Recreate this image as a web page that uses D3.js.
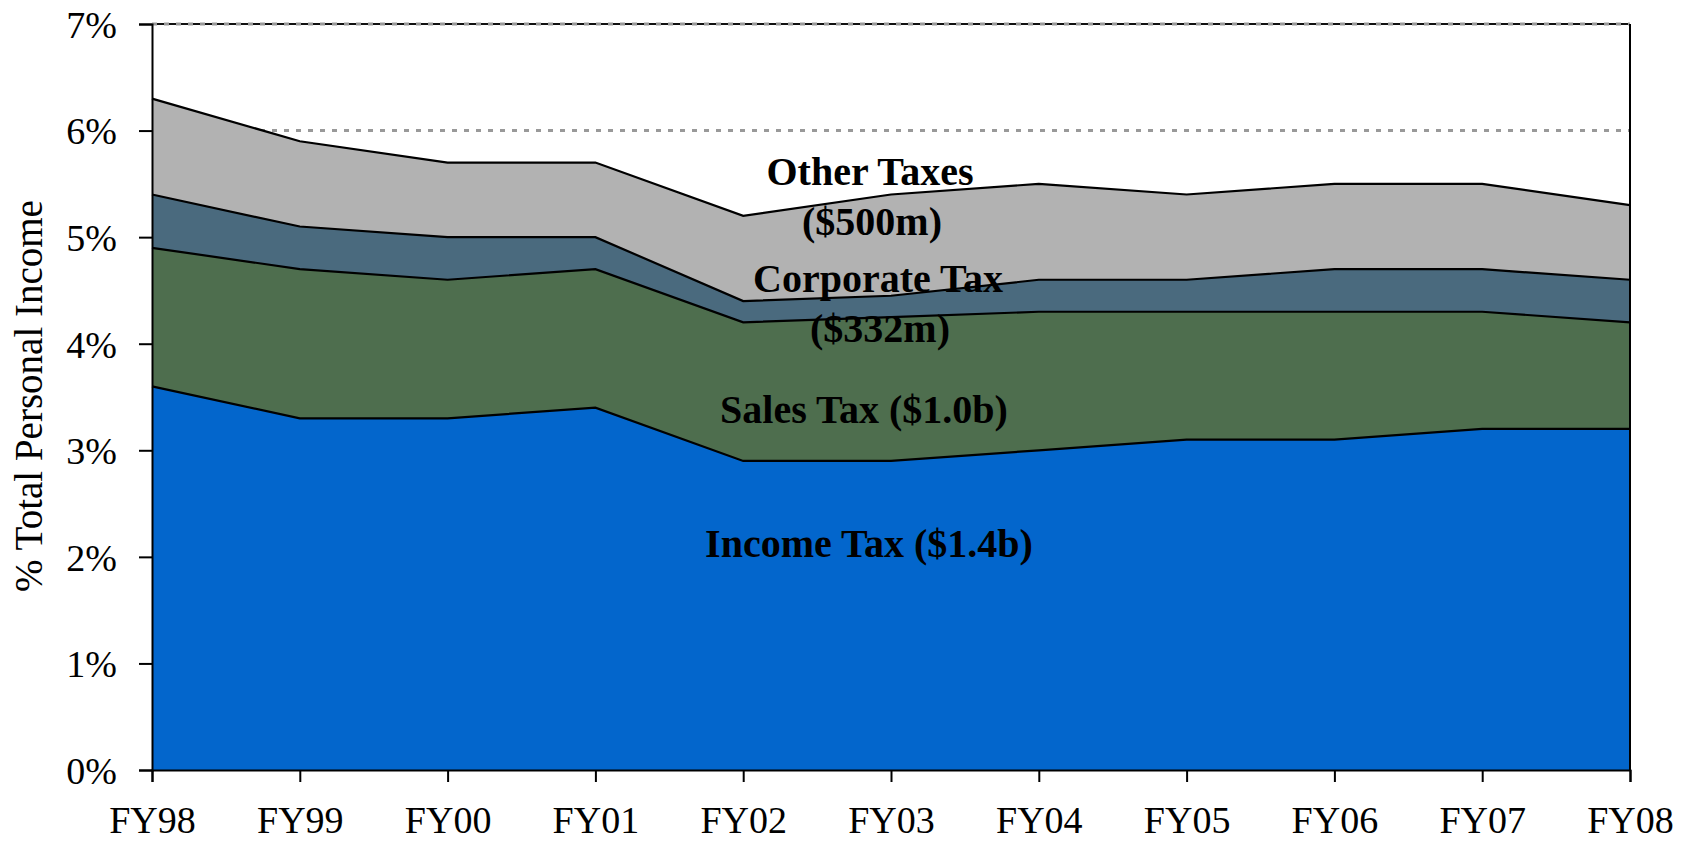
<!DOCTYPE html>
<html>
<head>
<meta charset="utf-8">
<script src="https://cdn.jsdelivr.net/npm/d3@7"></script>
<style>
  body { margin: 0; background: #fff; }
  text { font-family: "Palatino Linotype", "Book Antiqua", Palatino, "Liberation Serif", serif; }
</style>
</head>
<body>
<svg width="1688" height="843"></svg>
<script>
var years = ['FY98', 'FY99', 'FY00', 'FY01', 'FY02', 'FY03', 'FY04', 'FY05', 'FY06', 'FY07', 'FY08'];
var incomeTax = [3.6, 3.3, 3.3, 3.4, 2.9, 2.9, 3.0, 3.1, 3.1, 3.2, 3.2];
var salesTax = [1.3, 1.4, 1.3, 1.3, 1.3, 1.35, 1.3, 1.2, 1.2, 1.1, 1.0];
var corporateTax = [0.5, 0.4, 0.4, 0.3, 0.2, 0.2, 0.3, 0.3, 0.4, 0.4, 0.4];
var otherTaxes = [0.9, 0.8, 0.7, 0.7, 0.8, 0.95, 0.9, 0.8, 0.8, 0.8, 0.7];
var yTicks = [0, 1, 2, 3, 4, 5, 6, 7];
var gridTicks = [6, 7];

var keys = ['income', 'sales', 'corporate', 'other'];
var colors = { income: '#0366cc', sales: '#4e6e4e', corporate: '#4a6a7e', other: '#b2b2b2' };

var rows = years.map(function(yr, i) {
    return { year: yr, income: incomeTax[i], sales: salesTax[i], corporate: corporateTax[i], other: otherTaxes[i] };
});

var svg = d3.select('svg');
var plotLeft = 152, plotRight = 1630, plotTop = 24, plotBottom = 770;

var x = d3.scalePoint().domain(years).range([plotLeft, plotRight]);
var y = d3.scaleLinear().domain([0, 7]).range([plotBottom, plotTop]);

// dashed gridlines sit behind the areas
svg.append('g')
    .selectAll('line')
    .data(gridTicks)
    .enter().append('line')
    .attr('x1', plotLeft)
    .attr('x2', plotRight)
    .attr('y1', function(d) { return y(d); })
    .attr('y2', function(d) { return y(d); })
    .style('stroke', '#999')
    .style('stroke-width', 3)
    .style('stroke-dasharray', '5,7');

var series = d3.stack().keys(keys)(rows);

var area = d3.area()
    .x(function(d) { return x(d.data.year); })
    .y0(function(d) { return y(d[0]); })
    .y1(function(d) { return y(d[1]); });

var line = d3.line()
    .x(function(d) { return x(d.data.year); })
    .y(function(d) { return y(d[1]); });

svg.append('g')
    .selectAll('path')
    .data(series)
    .enter().append('path')
    .attr('d', area)
    .style('fill', function(d) { return colors[d.key]; });

svg.append('g')
    .selectAll('path')
    .data(series)
    .enter().append('path')
    .attr('d', line)
    .style('fill', 'none')
    .style('stroke', '#000')
    .style('stroke-width', 2.2);

// frame top and right
svg.append('line')
    .attr('x1', plotLeft).attr('x2', plotRight)
    .attr('y1', plotTop).attr('y2', plotTop)
    .style('stroke', '#111')
    .style('stroke-width', 2);
svg.append('line')
    .attr('x1', plotLeft).attr('x2', plotRight)
    .attr('y1', plotTop).attr('y2', plotTop)
    .style('stroke', '#999')
    .style('stroke-width', 2)
    .style('stroke-dasharray', '5,7');
svg.append('line')
    .attr('x1', plotRight).attr('x2', plotRight)
    .attr('y1', plotTop).attr('y2', plotBottom)
    .style('stroke', '#000')
    .style('stroke-width', 2);

var yAxis = svg.append('g')
    .attr('transform', 'translate(' + plotLeft + ',0)')
    .call(d3.axisLeft(y).tickValues(yTicks).tickSize(13).tickPadding(22)
        .tickFormat(function(d) { return d + '%'; }));

var xAxis = svg.append('g')
    .attr('transform', 'translate(0,' + plotBottom + ')')
    .call(d3.axisBottom(x).tickSize(12).tickPadding(24));

[yAxis, xAxis].forEach(function(g) {
    g.select('.domain').style('stroke', '#000').style('stroke-width', 2);
    g.selectAll('.tick line').style('stroke', '#000').style('stroke-width', 2);
    g.selectAll('text')
        .style('font-size', '38px')
        .style('fill', '#000')
        .attr('font-family', null);
});
yAxis.selectAll('text').attr('dy', '0.35em');
xAxis.selectAll('text').attr('dy', '0.71em');

svg.append('text')
    .attr('transform', 'translate(42,396) rotate(-90)')
    .attr('text-anchor', 'middle')
    .style('font-size', '39px')
    .text('% Total Personal Income');

var labels = [
    ['Other Taxes', 870, 185],
    ['($500m)', 872, 235],
    ['Corporate Tax', 878, 292],
    ['($332m)', 880, 342],
    ['Sales Tax ($1.0b)', 864, 423],
    ['Income Tax ($1.4b)', 869, 557]
];

svg.append('g')
    .selectAll('text')
    .data(labels)
    .enter().append('text')
    .attr('x', function(d) { return d[1]; })
    .attr('y', function(d) { return d[2]; })
    .attr('text-anchor', 'middle')
    .style('font-size', '40px')
    .style('font-weight', 'bold')
    .text(function(d) { return d[0]; });
</script>
</body>
</html>
